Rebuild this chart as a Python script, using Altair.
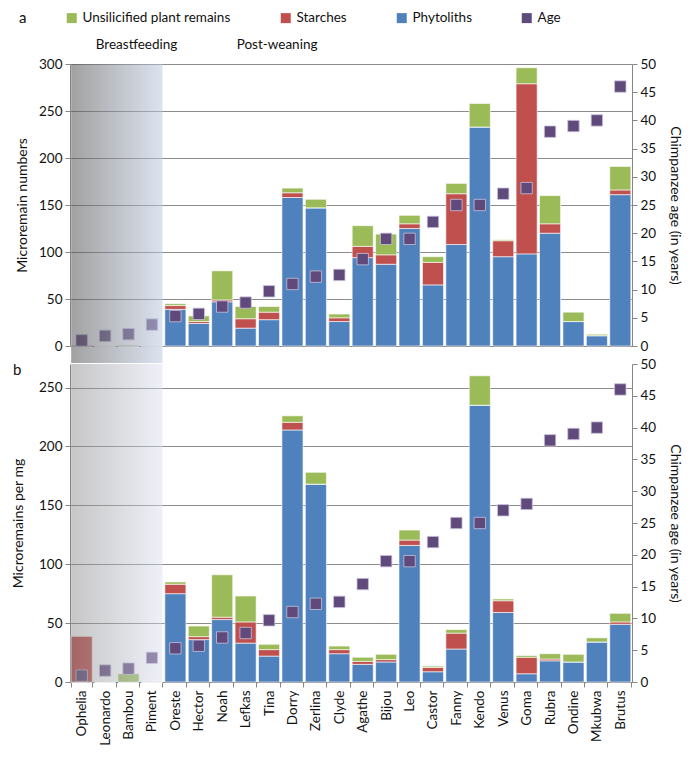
import altair as alt
import pandas as pd

# ---------------- data ----------------
names = ["Ophelia", "Leonardo", "Bambou", "Piment", "Oreste", "Hector", "Noah", "Lefkas",
         "Tina", "Dorry", "Zerlina", "Clyde", "Agathe", "Bijou", "Leo", "Castor", "Fanny",
         "Kendo", "Venus", "Goma", "Rubra", "Ondine", "Mkubwa", "Brutus"]

ages = [1, 1.8, 2.1, 3.8, 5.3, 5.7, 7, 7.7, 9.7, 11, 12.3, 12.6, 15.4, 19, 19, 22,
        25, 25, 27, 28, 38, 39, 40, 46]

# panel a: microremain numbers
phyt_a = [0, 0, 0, 0, 39, 24, 47, 19, 28, 158, 147, 26, 94, 87, 125, 65, 108, 233, 95, 98, 120, 26, 11, 161]
starch_a = [1, 0, 0, 0, 4, 2, 2, 10, 8, 5, 0, 4, 12, 10, 5, 24, 54, 0, 17, 181, 10, 0, 0, 5]
unsil_a = [0, 0, 1, 0, 2, 6, 31, 13, 6, 5, 9, 4, 22, 22, 9, 6, 11, 25, 1, 17, 30, 10, 1.5, 25]

# panel b: microremains per mg
phyt_b = [0, 0, 0, 0, 75, 36, 53, 33, 22, 214, 168, 24, 15, 17, 116, 8.7, 28, 235, 59, 7, 18, 17, 34, 49]
starch_b = [39, 0, 0, 0, 8, 2.5, 2, 18, 5.5, 6.5, 0, 3.5, 2.5, 2, 4.5, 3.6, 13.5, 0, 10, 14, 1.5, 0, 0, 2]
unsil_b = [0, 0, 7, 0, 2, 9, 36, 22, 4.5, 5.5, 10, 3, 3.5, 4.5, 8.5, 1.2, 3, 25, 1.5, 1.5, 4.5, 6.5, 3.5, 7.3]

series = ["Unsilicified plant remains", "Starches", "Phytoliths", "Age"]
colors = ["#9BBB59", "#C0504D", "#4F81BD", "#604A7B"]
stack_rank = {"Phytoliths": 0, "Starches": 1, "Unsilicified plant remains": 2}

phase_names = ["Bambou", "Tina"]
phase_labels = ["Breastfeeding", "Post-weaning"]


def long_table(phyt, starch, unsil):
    rows = []
    for i, n in enumerate(names):
        for s, v in (("Phytoliths", phyt[i]), ("Starches", starch[i]),
                     ("Unsilicified plant remains", unsil[i])):
            rows.append({"name": n, "series": s, "value": v, "rank": stack_rank[s]})
    return pd.DataFrame(rows)


age_df = pd.DataFrame({"name": names, "age": ages, "series": ["Age"] * len(names)})
shade_df = pd.DataFrame({"s": [names[0]], "e": [names[3]]})
phase_df = pd.DataFrame({"name": phase_names, "label": phase_labels})

W = 562
H_A = 282
H_B = 318
FONT = "Lato"

x_scale = alt.Scale(domain=names, paddingInner=0.1, paddingOuter=0.05)
color_scale = alt.Scale(domain=series, range=colors)


def panel(df, H, ymax, ystep, ytitle, ytitle_pad, stops, shade_op, shade_extra,
          show_labels, letter, letter_x, letter_y, legend):
    if show_labels:
        xaxis = alt.Axis(title=None, labelAngle=270, tickBand="extent", ticks=True,
                         labelPadding=3)
    else:
        xaxis = alt.Axis(title=None, labels=False, ticks=False, domain=True)
    xenc = alt.X("name:N", sort=names, scale=x_scale, axis=xaxis)

    bars = alt.Chart(df).mark_bar(stroke="white", strokeWidth=0.6).encode(
        x=xenc,
        y=alt.Y("value:Q", stack="zero",
                scale=alt.Scale(domain=[0, ymax], nice=False),
                axis=alt.Axis(orient="left", values=list(range(0, ymax + 1, ystep)),
                              title=ytitle, titlePadding=ytitle_pad, grid=True)),
        color=alt.Color("series:N", scale=color_scale, legend=legend),
        order=alt.Order("rank:Q", sort="ascending"),
    )

    pts = alt.Chart(age_df).mark_square(size=130, opacity=1, stroke="#c9c1dc",
                                        strokeWidth=0.8).encode(
        x=xenc,
        y=alt.Y("age:Q", scale=alt.Scale(domain=[0, 50], nice=False),
                axis=alt.Axis(orient="right", values=list(range(0, 51, 5)),
                              title="Chimpanzee age (in years)", titlePadding=12,
                              grid=False)),
        color=alt.Color("series:N", scale=color_scale, legend=legend),
    )

    grad = alt.LinearGradient(
        gradient="linear",
        stops=[alt.GradientStop(color=stops[0], offset=0),
               alt.GradientStop(color=stops[1], offset=1)],
        x1=0, x2=1, y1=0, y2=0)

    shade = alt.Chart(shade_df).mark_rect(fill=grad, opacity=shade_op).encode(
        x=alt.X("s:N", sort=names, scale=x_scale, axis=xaxis, bandPosition=0),
        x2=alt.X2("e", bandPosition=1),
        y=alt.value(0),
        y2=alt.value(H + shade_extra),
    )

    letter_txt = alt.Chart(pd.DataFrame({"t": [letter]})).mark_text(
        font=FONT, fontSize=15, align="left", baseline="middle", color="#111").encode(
        text="t:N", x=alt.value(letter_x), y=alt.value(letter_y))

    layers = [bars, pts, shade, letter_txt]
    if not show_labels:
        phase = alt.Chart(phase_df).mark_text(
            font=FONT, fontSize=13.5, align="center", baseline="middle", dx=8,
            color="#111").encode(
            x=alt.X("name:N", sort=names, scale=x_scale, axis=xaxis),
            y=alt.value(-19),
            text="label:N")
        layers.append(phase)

    return alt.layer(*layers).resolve_scale(y="independent").properties(width=W, height=H)


legend_a = alt.Legend(orient="none", legendX=-5, legendY=-53, direction="horizontal",
                      title=None, symbolType="square", symbolSize=100,
                      symbolStrokeWidth=0, labelFont=FONT, labelFontSize=13.5,
                      labelColor="#111", columnPadding=48, labelOffset=4,
                      padding=0, labelLimit=400)

panel_a = panel(long_table(phyt_a, starch_a, unsil_a), H_A, 300, 50,
                "Microremain numbers", 9, ("#555555", "#bfcbe3"), 0.55, 17,
                False, "a", -51, -46, legend_a)
panel_b = panel(long_table(phyt_b, starch_b, unsil_b), H_B, 270, 50,
                "Microremains per mg", 13, ("#818181", "#dadef0"), 0.45, 0,
                True, "b", -57, 6, None)

chart = alt.vconcat(panel_a, panel_b, spacing=18, bounds="flush").resolve_scale(
    color="independent"
).properties(
    padding={"left": 3, "top": 3, "right": 4, "bottom": 0}
).configure_view(stroke=None).configure_axis(
    labelFont=FONT, labelFontSize=13.5, labelColor="#111",
    titleFont=FONT, titleFontSize=14, titleFontWeight="normal", titleColor="#111",
    domainColor="#868686", tickColor="#868686", gridColor="#8c8c8c",
    tickSize=5, labelPadding=3,
)

chart.save("out.html", embed_options={"renderer": "svg", "actions": False})
